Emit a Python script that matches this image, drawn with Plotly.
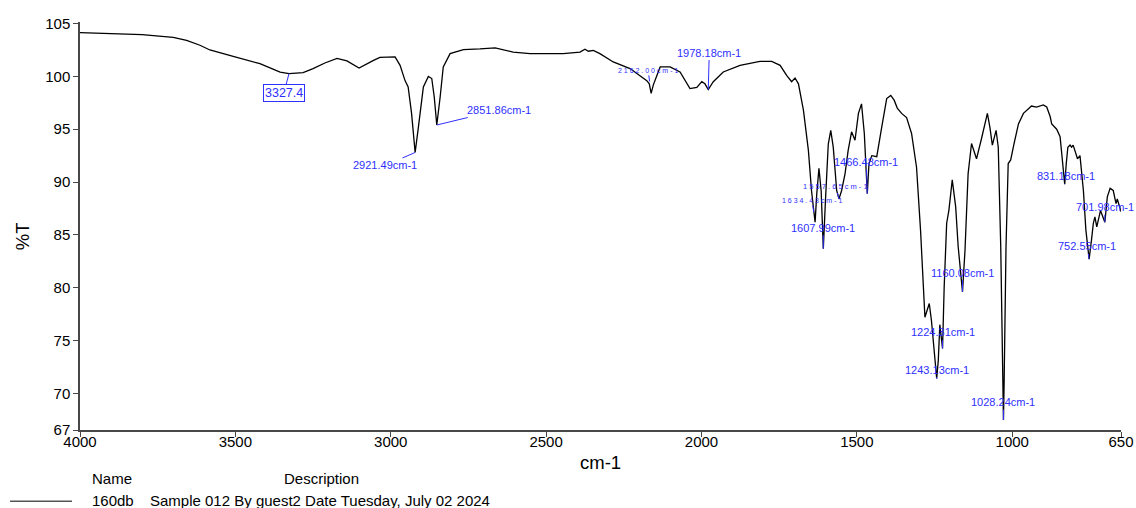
import numpy as np
import plotly.graph_objects as go

# FTIR spectrum: wavenumber (cm-1) vs transmittance (%T)
wavenumber = [
    4000, 3950, 3900, 3800, 3700, 3657, 3614, 3582, 3507, 3421, 3356, 3327.4,
    3282, 3250, 3212, 3173, 3141, 3102, 3057, 3035, 2986, 2970, 2954, 2944,
    2933, 2921.49, 2911, 2895, 2879, 2868, 2860, 2851.86, 2841, 2831, 2809,
    2766, 2713, 2664, 2606, 2552, 2445, 2391, 2375, 2364, 2348, 2327, 2284,
    2230, 2176, 2168, 2162.00, 2155, 2133, 2101, 2069, 2037, 2015, 1999, 1989,
    1978.18, 1962, 1930, 1876, 1812, 1774, 1747, 1726, 1710, 1699, 1688, 1672,
    1656, 1646, 1634.43, 1629, 1622, 1615, 1607.99, 1601, 1592, 1584, 1576,
    1565, 1557.65, 1549, 1538, 1528, 1517, 1506, 1495, 1485, 1476, 1466.48,
    1461, 1452, 1436, 1420, 1404, 1391, 1380, 1370, 1356, 1340, 1324, 1308,
    1295, 1281, 1276, 1267, 1260, 1243.13, 1238, 1233, 1224.31, 1219, 1211,
    1204, 1193, 1182, 1174, 1160.08, 1152, 1142, 1131, 1115, 1099, 1080, 1072,
    1064, 1052, 1045, 1037, 1032, 1028.24, 1026, 1020, 1013, 1005, 994, 980,
    964, 954, 938, 922, 900, 889, 878, 873, 857, 846, 840, 831.18, 826, 821,
    814, 809, 804, 796, 790, 782, 771, 763, 752.55, 745, 739, 734, 728, 716,
    701.98, 694, 685, 675, 666, 662, 656, 650,
]
transmittance = [
    104.15, 104.1, 104.05, 103.95, 103.7, 103.4, 102.95, 102.5, 101.9, 101.2, 100.4, 100.27,
    100.36, 100.74, 101.27, 101.7, 101.46, 100.8, 101.5, 101.8, 101.85, 101.05, 99.6, 99.0,
    96.5, 92.8, 95.2, 99.0, 100.0, 99.8, 98.05, 95.4, 98.05, 100.9, 102.16,
    102.54, 102.6, 102.7, 102.3, 102.16, 102.16, 102.3, 102.57, 102.38, 102.47, 102.16, 101.37,
    100.74, 99.6, 99.3, 98.4, 99.2, 100.9, 100.9, 100.42, 98.85, 98.95, 99.5, 99.3,
    98.76, 99.5, 100.42, 101.05, 101.43, 101.43, 101.05, 100.1, 99.5, 99.85, 99.3, 96.8,
    93.0, 89.2, 86.2, 88.9, 91.3, 89.2, 83.7, 88.3, 93.6, 94.9, 93.3,
    89.2, 88.4, 89.2, 90.8, 93.0, 94.75, 93.96, 96.5, 97.4, 94.6, 88.9,
    91.75, 92.5, 92.4, 95.2, 97.9, 98.2, 97.75, 97.0, 96.5, 96.1, 94.6, 91.4,
    85.4, 77.2, 77.6, 78.5, 76.9, 71.4, 73.1, 76.5, 74.25, 80.1, 86.1,
    87.3, 90.2, 87.65, 83.9, 79.6, 83.55, 90.8, 93.65, 92.2, 94.1, 96.5, 95.2,
    93.5, 94.9, 93.3, 83.9, 71.25, 67.47, 71.25, 83.9, 91.75, 92.1, 93.65, 95.5,
    96.5, 96.8, 97.2, 97.1, 97.3, 97.1, 96.2, 95.5, 95.0, 94.3, 92.6, 89.8, 91.8, 93.3,
    93.5, 93.3, 93.5, 92.7, 92.2, 92.5, 89.2, 85.45, 82.7, 84.5, 86.1, 86.7, 85.75, 87.3,
    86.2, 88.6, 89.4, 89.2, 87.95, 88.4, 87.65, 87.2,
]

# Peak picks
peak_wn = [3327.4, 2921.49, 2851.86, 2162.00, 1978.18, 1634.43, 1607.99, 1557.65,
           1466.48, 1243.13, 1224.31, 1160.08, 1028.24, 831.18, 752.55, 701.98]

# Label placement (pixel offset of the label from its peak) and styling
label_style = {
    3327.4:  dict(ax=-5,  ay=19,  size=12.5, boxed=True),
    2921.49: dict(ax=-30, ay=13,  size=11),
    2851.86: dict(ax=62,  ay=-15, size=11),
    2162.00: dict(ax=-3,  ay=-23, size=7, spaced=True, standoff=12),
    1978.18: dict(ax=1,   ay=-37, size=11),
    1634.43: dict(ax=-3,  ay=-22, size=7, spaced=True, standoff=10),
    1607.99: dict(ax=0,   ay=-21, size=11),
    1557.65: dict(ax=-3,  ay=-12, size=7.5, spaced=True),
    1466.48: dict(ax=-1,  ay=-32, size=11),
    1243.13: dict(ax=0,   ay=-9,  size=11),
    1224.31: dict(ax=0,   ay=-16, size=11),
    1160.08: dict(ax=0,   ay=-19, size=11),
    1028.24: dict(ax=0,   ay=-18, size=11),
    831.18:  dict(ax=1,   ay=-8,  size=11),
    752.55:  dict(ax=-2,  ay=-13, size=11),
    701.98:  dict(ax=0,   ay=-15, size=11),
}

x_ticks = [4000, 3500, 3000, 2500, 2000, 1500, 1000, 650]
y_min, y_max = 66.53, 105.15
y_ticks = [y_min, 70, 75, 80, 85, 90, 95, 100, 105]
y_ticktext = ["67", "70", "75", "80", "85", "90", "95", "100", "105"]

legend_name = "160db"
legend_desc = "Sample 012 By guest2 Date Tuesday, July 02 2024"

FONT = "Liberation Sans, Arial, sans-serif"
BLUE = "#2f2fff"
AXIS = "#474747"

fig = go.Figure()
fig.add_trace(go.Scatter(
    x=wavenumber, y=transmittance, mode="lines",
    line=dict(color="black", width=1.3), hoverinfo="x+y",
))

wn_sorted = np.array(wavenumber[::-1], dtype=float)
t_sorted = np.array(transmittance[::-1], dtype=float)

annotations = []
for wn in peak_wn:
    st = label_style[wn]
    t_val = float(np.interp(wn, wn_sorted, t_sorted))
    if st.get("boxed"):
        text = f"{wn:.1f}"
    else:
        text = f"{wn:.2f}cm-1"
    if st.get("spaced"):
        text = " ".join(text)
    ann = dict(
        x=wn, y=t_val, xref="x", yref="y", text=text,
        showarrow=True, arrowhead=0, arrowwidth=1, arrowcolor=BLUE,
        ax=st["ax"], ay=st["ay"], standoff=st.get("standoff", 0),
        font=dict(family=FONT, size=st["size"], color=BLUE),
        xanchor="center", yanchor="middle",
    )
    if st.get("boxed"):
        ann.update(bordercolor=BLUE, borderwidth=1, borderpad=1)
    annotations.append(ann)

# Axis titles
annotations.append(dict(x=0.5, y=-0.079, xref="paper", yref="paper", text="cm-1",
                        showarrow=False, font=dict(family=FONT, size=18.5, color="black"),
                        xanchor="center", yanchor="middle"))
annotations.append(dict(x=-0.0557, y=0.475, xref="paper", yref="paper", text="%T",
                        textangle=-90, showarrow=False,
                        font=dict(family=FONT, size=18.5, color="black"),
                        xanchor="center", yanchor="middle"))

# Sample table below the plot
for txt, xp, yp in [("Name", 0.0096, -0.118), ("Description", 0.194, -0.118),
                    (legend_name, 0.0096, -0.1724), (legend_desc, 0.0653, -0.1724)]:
    annotations.append(dict(x=xp, y=yp, xref="paper", yref="paper", text=txt,
                            showarrow=False, font=dict(family=FONT, size=15, color="black"),
                            xanchor="left", yanchor="middle"))

shapes = [dict(type="line", xref="paper", yref="paper", x0=-0.0672, x1=-0.0077,
               y0=-0.1749, y1=-0.1749, line=dict(color="#555555", width=1.5))]

axis_common = dict(
    showline=True, linecolor=AXIS, linewidth=1.5, ticks="outside", ticklen=5,
    tickcolor=AXIS, tickwidth=1.2, showgrid=False, zeroline=False, mirror=False,
    automargin=False,
    tickfont=dict(family=FONT, size=15, color="black"),
)

fig.update_layout(
    template="none",
    width=1136, height=508,
    margin=dict(l=80, r=15, t=22, b=78),
    paper_bgcolor="white", plot_bgcolor="white",
    showlegend=False,
    xaxis=dict(range=[4000, 650], tickvals=x_ticks, ticklabelstandoff=-8, **axis_common),
    yaxis=dict(range=[y_min, y_max], tickvals=y_ticks, ticktext=y_ticktext, **axis_common),
    annotations=annotations, shapes=shapes,
)

fig.write_html("out.html")
